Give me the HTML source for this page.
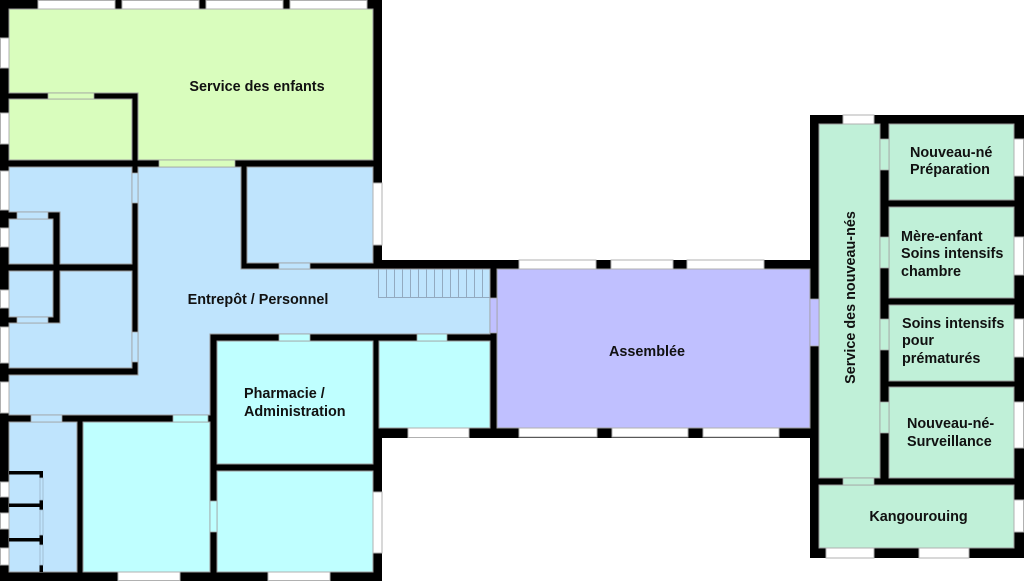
<!DOCTYPE html>
<html><head><meta charset="utf-8"><style>
html,body{margin:0;padding:0;background:#fff;}
svg{display:block;}
text{font-family:"Liberation Sans",Arial,sans-serif;font-weight:bold;font-size:14.4px;fill:#111;}
</style></head><body>
<svg width="1024" height="581" viewBox="0 0 1024 581" xmlns="http://www.w3.org/2000/svg">
<rect width="1024" height="581" fill="#fff"/>
<!-- walls -->
<g fill="#000">
<rect x="0" y="0" width="382" height="581"/>
<rect x="373" y="260" width="124" height="178"/>
<rect x="490" y="260" width="329" height="178"/>
<rect x="810" y="115" width="214" height="443"/>
</g>
<!-- rooms -->
<g stroke="#9a9a9a" stroke-width="1">
<polygon points="9,9 373,9 373,160 138,160 138,93 9,93" fill="#d9fdbd"/>
<rect x="9" y="99" width="123" height="61" fill="#d9fdbd"/>
<polygon points="138,167 241,167 241,269 490,269 490,334 210,334 210,415 9,415 9,375 138,375" fill="#bfe4fd"/>
<polygon points="9,167 132,167 132,264 60,264 60,212 9,212" fill="#bfe4fd"/>
<rect x="9" y="219" width="44" height="45" fill="#bfe4fd"/>
<polygon points="60,271 132,271 132,368 9,368 9,323 60,323" fill="#bfe4fd"/>
<rect x="9" y="271" width="44" height="46" fill="#bfe4fd"/>
<rect x="247" y="167" width="126" height="96" fill="#bfe4fd"/>
<rect x="217" y="341" width="156" height="123" fill="#bfffff"/>
<rect x="379" y="341" width="111" height="87" fill="#bfffff"/>
<rect x="217" y="471" width="156" height="101" fill="#bfffff"/>
<rect x="83" y="422" width="127" height="150" fill="#bfffff"/>
<rect x="9" y="422" width="68" height="150" fill="#bfe4fd"/>
<rect x="497" y="269" width="313" height="159" fill="#c0c0ff"/>
<rect x="819" y="124" width="61" height="354" fill="#c0f0d8"/>
<rect x="889" y="124" width="125" height="76" fill="#c0f0d8"/>
<rect x="889" y="207" width="125" height="91" fill="#c0f0d8"/>
<rect x="889" y="305" width="125" height="76" fill="#c0f0d8"/>
<rect x="889" y="387" width="125" height="91" fill="#c0f0d8"/>
<rect x="819" y="485" width="195" height="63" fill="#c0f0d8"/>
</g>
<!-- cells in lower-left column -->
<g fill="#000">
<rect x="9" y="471" width="34" height="3.5"/>
<rect x="9" y="503.5" width="34" height="3.5"/>
<rect x="9" y="538" width="34" height="3.5"/>
<rect x="39.5" y="471" width="3.5" height="7"/>
<rect x="39.5" y="500" width="3.5" height="10"/>
<rect x="39.5" y="535" width="3.5" height="10"/>
<rect x="39.5" y="565" width="3.5" height="7"/>
</g>
<g fill="#bfe4fd" stroke="#9ab4c8" stroke-width="0.8">
<rect x="40" y="478" width="3" height="22"/>
<rect x="40" y="510" width="3" height="25"/>
<rect x="40" y="545" width="3" height="20"/>
</g>
<!-- stairs -->
<g stroke="#93aac0" stroke-width="1" fill="none">
<path d="M378.5,269 V297.5 H490 M386.5,269V297 M394.5,269V297 M402.5,269V297 M410.5,269V297 M418.5,269V297 M426.5,269V297 M434.5,269V297 M442.5,269V297 M450.5,269V297 M458.5,269V297 M466.5,269V297 M474.5,269V297 M482.5,269V297"/>
</g>
<!-- windows -->
<g fill="#fff" stroke="#b0b0b0" stroke-width="1">
<rect x="38" y="0.5" width="77" height="8.5"/>
<rect x="122" y="0.5" width="77" height="8.5"/>
<rect x="206" y="0.5" width="77" height="8.5"/>
<rect x="290" y="0.5" width="77" height="8.5"/>
<rect x="0.5" y="38" width="8.5" height="30"/>
<rect x="0.5" y="113" width="8.5" height="31"/>
<rect x="0.5" y="171" width="8.5" height="39"/>
<rect x="0.5" y="228" width="8.5" height="19"/>
<rect x="0.5" y="290" width="8.5" height="18"/>
<rect x="0.5" y="327" width="8.5" height="36"/>
<rect x="0.5" y="382" width="8.5" height="31"/>
<rect x="0.5" y="482" width="8.5" height="15"/>
<rect x="0.5" y="513" width="8.5" height="16"/>
<rect x="0.5" y="548" width="8.5" height="17"/>
<rect x="373" y="183" width="9" height="62"/>
<rect x="373" y="492" width="9" height="61"/>
<rect x="118" y="572" width="62" height="8.5"/>
<rect x="268" y="572" width="62" height="8.5"/>
<rect x="408" y="428" width="61" height="9.5"/>
<rect x="519" y="260" width="77" height="9"/>
<rect x="611" y="260" width="62" height="9"/>
<rect x="687" y="260" width="77" height="9"/>
<rect x="519" y="428" width="78" height="9"/>
<rect x="612" y="428" width="76" height="9"/>
<rect x="703" y="428" width="76" height="9"/>
<rect x="843" y="115" width="31" height="9"/>
<rect x="1014" y="139" width="9.5" height="37"/>
<rect x="1014" y="237" width="9.5" height="38"/>
<rect x="1014" y="319" width="9.5" height="38"/>
<rect x="1014" y="402" width="9.5" height="46"/>
<rect x="1014" y="500" width="9.5" height="32"/>
<rect x="826" y="548" width="48" height="10"/>
<rect x="919" y="548" width="50" height="10"/>
</g>
<!-- doors -->
<g stroke="#a0a0a0" stroke-width="0.8">
<rect x="48" y="93" width="46" height="6" fill="#d9fdbd"/>
<rect x="159" y="160" width="76" height="7" fill="#d9fdbd"/>
<rect x="132" y="173" width="6" height="30" fill="#bfe4fd"/>
<rect x="132" y="332" width="6" height="30" fill="#bfe4fd"/>
<rect x="17" y="212" width="31" height="7" fill="#bfe4fd"/>
<rect x="17" y="317" width="31" height="6" fill="#bfe4fd"/>
<rect x="279" y="263" width="31" height="6" fill="#bfe4fd"/>
<rect x="279" y="334" width="31" height="7" fill="#bfffff"/>
<rect x="417" y="334" width="30" height="7" fill="#bfffff"/>
<rect x="490" y="298" width="7" height="35" fill="#c0c0ff"/>
<rect x="810" y="299" width="9" height="47" fill="#c0c0ff"/>
<rect x="31" y="415" width="31" height="7" fill="#bfe4fd"/>
<rect x="173" y="415" width="35" height="7" fill="#bfffff"/>
<rect x="210" y="501" width="7" height="31" fill="#bfffff"/>
<rect x="880" y="139" width="9" height="31" fill="#c0f0d8"/>
<rect x="880" y="237" width="9" height="31" fill="#c0f0d8"/>
<rect x="880" y="319" width="9" height="31" fill="#c0f0d8"/>
<rect x="880" y="402" width="9" height="31" fill="#c0f0d8"/>
<rect x="843" y="478" width="31" height="7" fill="#c0f0d8"/>
</g>
<!-- labels -->
<text x="257" y="91" text-anchor="middle">Service des enfants</text>
<text x="258" y="304" text-anchor="middle">Entrepôt / Personnel</text>
<text x="244" y="398">Pharmacie /</text>
<text x="244" y="416">Administration</text>
<text x="647" y="356" text-anchor="middle">Assemblée</text>
<text transform="translate(855,297.5) rotate(-90)" text-anchor="middle">Service des nouveau-nés</text>
<text x="910" y="157">Nouveau-né</text>
<text x="910" y="174">Préparation</text>
<text x="901" y="241">Mère-enfant</text>
<text x="901" y="258">Soins intensifs</text>
<text x="901" y="276">chambre</text>
<text x="902" y="328">Soins intensifs</text>
<text x="902" y="345">pour</text>
<text x="902" y="363">prématurés</text>
<text x="907" y="428">Nouveau-né-</text>
<text x="907" y="446">Surveillance</text>
<text x="918.5" y="521" text-anchor="middle">Kangourouing</text>
</svg>
</body></html>
